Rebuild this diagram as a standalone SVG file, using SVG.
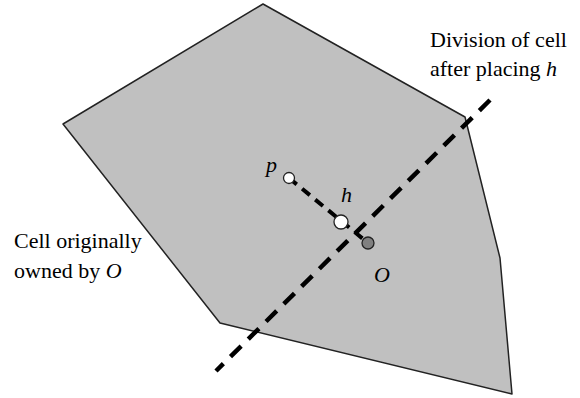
<svg xmlns="http://www.w3.org/2000/svg" width="580" height="398" viewBox="0 0 580 398">
<style>
.txt{font-family:"Liberation Serif","DejaVu Serif",serif;font-size:22px;fill:#000}
.it{font-style:italic}
.cell{fill:#c0c0c0;stroke:#222;stroke-width:1.5;stroke-linejoin:round}
.div{fill:none;stroke:#000;stroke-width:4.5;stroke-dasharray:15 10}
.seg{fill:none;stroke:#000;stroke-width:4;stroke-dasharray:10 7}
.pt{fill:#fff;stroke:#222;stroke-width:1.3}
.ptO{fill:#808080;stroke:#222;stroke-width:1.3}
</style>
<rect width="580" height="398" fill="#fff"/>
<g id="cell">
<polygon class="cell" points="263,4 465,117 500,258 512,394 220,323 63,124"/>
</g>
<g id="connectors">
<line class="div" x1="490" y1="100" x2="216" y2="371"/>
<line class="seg" x1="289" y1="178" x2="368" y2="243"/>
</g>
<g id="node-p">
<circle class="pt" cx="289" cy="178" r="5.5"/>
<text class="txt it" x="266" y="172">p</text>
</g>
<g id="node-h">
<circle class="pt" cx="341" cy="222" r="7"/>
<text class="txt it" x="341" y="202">h</text>
</g>
<g id="node-O">
<circle class="ptO" cx="368" cy="243" r="6"/>
<text class="txt it" x="374" y="282">O</text>
</g>
<g id="label-cell">
<text class="txt" x="14" y="248">Cell originally</text>
<text class="txt" x="14" y="278">owned by <tspan class="it">O</tspan></text>
</g>
<g id="label-division">
<text class="txt" x="430" y="47">Division of cell</text>
<text class="txt" x="430" y="76">after placing <tspan class="it">h</tspan></text>
</g>
</svg>
